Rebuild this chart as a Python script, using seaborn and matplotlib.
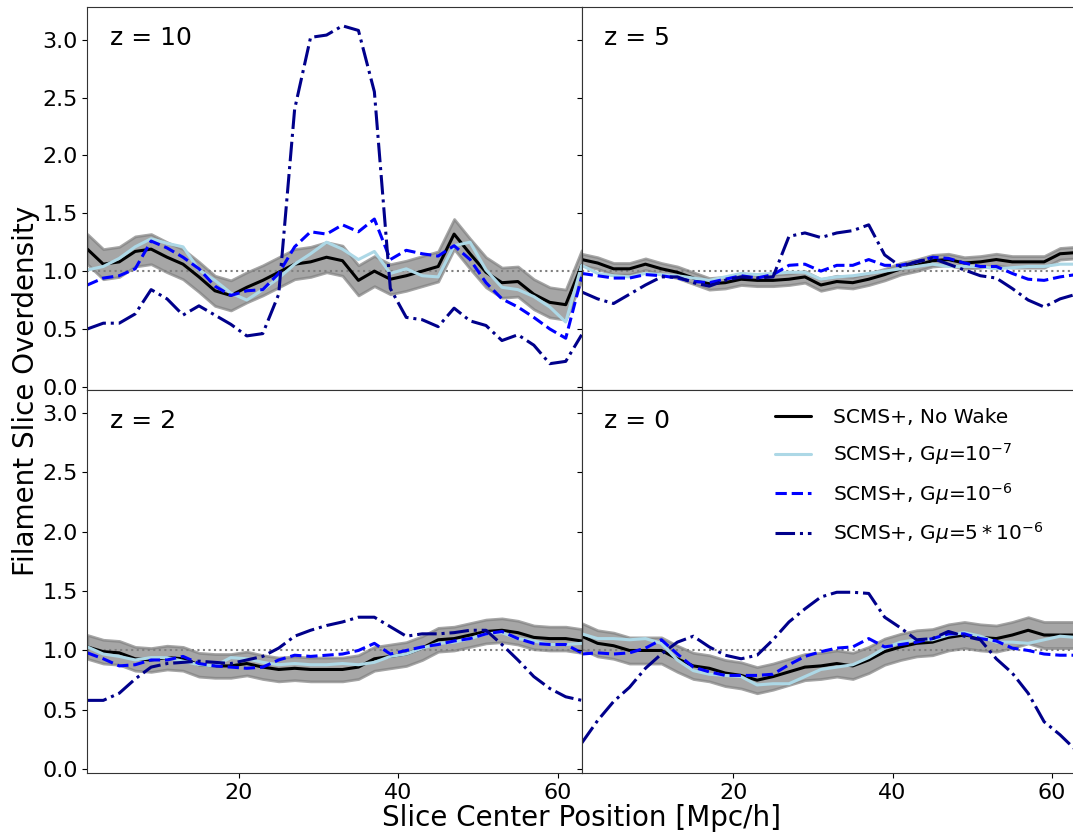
import numpy as np
import pandas as pd
import matplotlib
matplotlib.use('Agg')
import matplotlib.pyplot as plt
import seaborn as sns

# slice centres (Mpc/h)
x = np.arange(1, 64, 2)

# z = 10
nowake_z10 = [1.19, 1.06, 1.08, 1.17, 1.19, 1.12, 1.06, 0.95, 0.83, 0.79, 0.86, 0.92, 0.99, 1.06, 1.08, 1.12,
              1.09, 0.92, 1.00, 0.93, 0.96, 1.00, 1.04, 1.32, 1.15, 0.99, 0.90, 0.91, 0.80, 0.73, 0.71, 1.05]
gmu7_z10 = [1.01, 1.04, 1.11, 1.21, 1.28, 1.24, 1.21, 1.01, 0.92, 0.81, 0.75, 0.84, 0.94, 1.06, 1.15, 1.25,
            1.19, 1.10, 1.17, 0.98, 1.02, 0.96, 0.95, 1.22, 1.25, 1.01, 0.86, 0.84, 0.78, 0.69, 0.56, 1.05]
gmu6_z10 = [0.88, 0.94, 0.96, 1.02, 1.26, 1.20, 1.12, 1.02, 0.87, 0.79, 0.83, 0.84, 0.98, 1.21, 1.34, 1.32,
            1.40, 1.34, 1.45, 1.10, 1.18, 1.15, 1.13, 1.22, 1.10, 0.90, 0.76, 0.69, 0.60, 0.50, 0.42, 0.95]
gmu5_z10 = [0.50, 0.55, 0.55, 0.63, 0.84, 0.76, 0.62, 0.70, 0.62, 0.54, 0.44, 0.46, 0.80, 2.40, 3.02, 3.04,
            3.12, 3.08, 2.55, 0.85, 0.60, 0.58, 0.52, 0.68, 0.57, 0.53, 0.40, 0.45, 0.36, 0.20, 0.22, 0.45]

# z = 5
nowake_z5 = [1.10, 1.07, 1.02, 1.02, 1.06, 1.02, 0.99, 0.94, 0.89, 0.90, 0.93, 0.92, 0.92, 0.93, 0.95, 0.88,
             0.91, 0.90, 0.93, 0.97, 1.02, 1.05, 1.09, 1.10, 1.07, 1.08, 1.10, 1.08, 1.08, 1.08, 1.15, 1.16]
gmu7_z5 = [1.05, 0.98, 0.96, 0.95, 0.98, 0.97, 0.96, 0.94, 0.92, 0.95, 0.98, 0.97, 0.98, 0.99, 0.99, 0.93,
           0.95, 0.96, 0.98, 1.00, 1.02, 1.04, 1.06, 1.04, 1.04, 1.04, 1.02, 1.03, 1.04, 1.04, 1.06, 1.06]
gmu6_z5 = [0.98, 0.96, 0.94, 0.94, 0.97, 0.96, 0.94, 0.91, 0.90, 0.93, 0.96, 0.94, 0.97, 1.05, 1.06, 1.00,
           1.05, 1.05, 1.10, 1.05, 1.05, 1.08, 1.12, 1.11, 1.07, 1.04, 1.04, 0.98, 0.93, 0.92, 0.95, 0.97]
gmu5_z5 = [0.82, 0.76, 0.72, 0.80, 0.88, 0.95, 0.95, 0.90, 0.87, 0.92, 0.95, 0.94, 0.95, 1.30, 1.33, 1.29,
           1.33, 1.35, 1.40, 1.14, 1.04, 1.08, 1.11, 1.06, 1.01, 0.96, 0.94, 0.85, 0.75, 0.69, 0.76, 0.80]

# z = 2
nowake_z2 = [1.03, 0.99, 0.98, 0.93, 0.92, 0.94, 0.93, 0.88, 0.87, 0.87, 0.89, 0.86, 0.84, 0.85, 0.84, 0.84,
             0.84, 0.86, 0.93, 0.95, 0.97, 1.02, 1.09, 1.10, 1.13, 1.16, 1.17, 1.15, 1.11, 1.10, 1.10, 1.08]
gmu7_z2 = [1.03, 0.97, 0.95, 0.92, 0.94, 0.94, 0.91, 0.88, 0.87, 0.94, 0.93, 0.90, 0.88, 0.89, 0.88, 0.88,
           0.89, 0.88, 0.90, 0.95, 0.97, 1.02, 1.06, 1.07, 1.10, 1.14, 1.15, 1.10, 1.08, 1.05, 1.05, 1.06]
gmu6_z2 = [0.98, 0.93, 0.87, 0.88, 0.92, 0.92, 0.95, 0.89, 0.87, 0.86, 0.85, 0.86, 0.92, 0.96, 0.95, 0.96,
           0.97, 1.00, 1.06, 0.97, 1.00, 1.03, 1.05, 1.08, 1.10, 1.14, 1.16, 1.10, 1.06, 1.05, 1.05, 0.98]
gmu5_z2 = [0.58, 0.58, 0.64, 0.76, 0.86, 0.89, 0.90, 0.91, 0.90, 0.89, 0.92, 0.95, 1.02, 1.12, 1.17, 1.21,
           1.24, 1.28, 1.28, 1.20, 1.12, 1.14, 1.14, 1.15, 1.17, 1.17, 1.05, 0.92, 0.78, 0.68, 0.61, 0.58]

# z = 0
nowake_z0 = [1.12, 1.06, 1.04, 1.00, 1.00, 1.00, 0.93, 0.87, 0.85, 0.81, 0.79, 0.75, 0.78, 0.82, 0.86, 0.87,
             0.89, 0.87, 0.92, 0.99, 1.03, 1.06, 1.07, 1.11, 1.13, 1.11, 1.10, 1.13, 1.17, 1.13, 1.13, 1.13]
gmu7_z0 = [1.14, 1.10, 1.10, 1.09, 1.10, 1.06, 0.92, 0.83, 0.80, 0.79, 0.78, 0.71, 0.72, 0.72, 0.78, 0.84,
           0.86, 0.88, 0.94, 1.02, 1.07, 1.09, 1.09, 1.13, 1.15, 1.12, 1.07, 1.07, 1.06, 1.09, 1.12, 1.11]
gmu6_z0 = [0.97, 0.98, 0.97, 0.98, 1.02, 1.09, 0.97, 0.86, 0.82, 0.79, 0.79, 0.79, 0.80, 0.88, 0.95, 0.99,
           1.02, 1.03, 1.10, 1.03, 1.05, 1.07, 1.10, 1.14, 1.14, 1.10, 1.08, 1.02, 1.00, 0.97, 0.96, 0.96]
gmu5_z0 = [0.22, 0.41, 0.57, 0.69, 0.85, 0.97, 1.07, 1.12, 1.03, 0.96, 0.93, 0.96, 1.09, 1.24, 1.35, 1.45,
           1.49, 1.49, 1.48, 1.28, 1.19, 1.09, 1.10, 1.16, 1.12, 1.09, 0.93, 0.81, 0.64, 0.40, 0.29, 0.16]

# half-width of the grey band around the no-wake curve
band_err = {'10': 0.13, '5': 0.05, '2': 0.10, '0': 0.11}

redshifts = ['10', '5', '2', '0']
panels = {
    '10': (nowake_z10, gmu7_z10, gmu6_z10, gmu5_z10),
    '5': (nowake_z5, gmu7_z5, gmu6_z5, gmu5_z5),
    '2': (nowake_z2, gmu7_z2, gmu6_z2, gmu5_z2),
    '0': (nowake_z0, gmu7_z0, gmu6_z0, gmu5_z0),
}
labels = ['SCMS+, No Wake', r'SCMS+, G$\mu$=$10^{-7}$', r'SCMS+, G$\mu$=$10^{-6}$',
          r'SCMS+, G$\mu$=$5*10^{-6}$']
colors = ['black', 'lightblue', 'blue', 'darkblue']
styles = ['-', '-', '--', '-.']

sns.set_style('ticks')
plt.rcParams['font.family'] = ['DejaVu Sans']
plt.rcParams['text.color'] = 'black'
plt.rcParams['axes.edgecolor'] = '0.2'

fig, axes = plt.subplots(2, 2, figsize=(10.73, 8.38), dpi=100, sharex=True)
fig.subplots_adjust(left=0.0814, right=1.0028, bottom=0.0772, top=0.9913, wspace=0, hspace=0)

for ax, z in zip(axes.flat, redshifts):
    curves = panels[z]
    nw = np.array(curves[0])
    ax.fill_between(x, nw - band_err[z], nw + band_err[z], color='gray', alpha=0.7, lw=2)
    ax.axhline(1.0, color='gray', ls=':', lw=1.5)
    for vals, lab, c, ls in zip(curves, labels, colors, styles):
        df = pd.DataFrame({'pos': x, 'od': vals})
        sns.lineplot(data=df, x='pos', y='od', ax=ax, color=c, linestyle=ls, lw=2.2, label=lab, legend=False)
    ax.text(0.045, 0.92, 'z = ' + z, transform=ax.transAxes, fontsize=18, va='center', ha='left')
    ax.set_xlim(1, 63)
    ax.set_xticks([20, 40, 60])
    ax.set_yticks([0.0, 0.5, 1.0, 1.5, 2.0, 2.5, 3.0])
    ax.set_xlabel('')
    ax.set_ylabel('')
    ax.tick_params(labelsize=16, colors='black')

for ax in axes[0]:
    ax.set_ylim(-0.03, 3.28)
for ax in axes[1]:
    ax.set_ylim(-0.034, 3.19)
for ax in axes[:, 1]:
    ax.tick_params(labelleft=False)

leg = axes[1, 1].legend(loc='upper left', bbox_to_anchor=(0.355, 1.0), frameon=False, fontsize=14.5,
                        handlelength=1.75, handletextpad=1.1, labelspacing=0.68)

fig.text(0.542, 0.024, 'Slice Center Position [Mpc/h]', ha='center', va='center', fontsize=20)
fig.text(0.024, 0.534, 'Filament Slice Overdensity', ha='center', va='center', rotation=90, fontsize=20)

fig.savefig('out.png', dpi=100)
